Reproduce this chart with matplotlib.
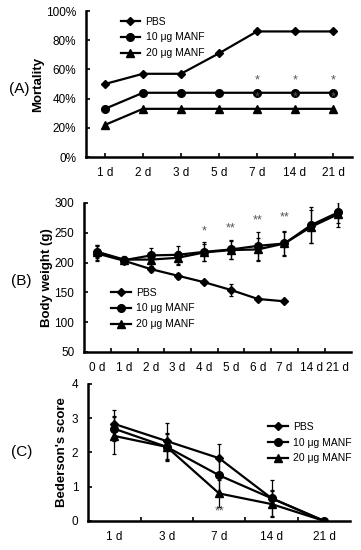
import numpy as np
import matplotlib.pyplot as plt
from matplotlib.lines import Line2D

plt.rcParams['font.family'] = ['Liberation Sans', 'DejaVu Sans']

# (A) mortality
days_a = ["1 d", "2 d", "3 d", "5 d", "7 d", "14 d", "21 d"]
mort_pbs = [50, 57, 57, 71, 86, 86, 86]
mort_10 = [33, 44, 44, 44, 44, 44, 44]
mort_20 = [22, 33, 33, 33, 33, 33, 33]
star_a_idx = [4, 5, 6]

# (B) body weight
days_b = ["0 d", "1 d", "2 d", "3 d", "4 d", "5 d", "6 d", "7 d", "14 d", "21 d"]
bw_pbs = [215, 203, 189, 178, 167, 154, 139, 135]
bw_pbs_err = [12, 6, 5, 5, 3, 10, 3, 3]
bw_10 = [217, 204, 212, 213, 218, 222, 228, 232, 263, 284]
bw_10_err = [12, 6, 12, 15, 16, 16, 23, 21, 30, 17]
bw_20 = [218, 205, 205, 208, 217, 221, 222, 232, 260, 281]
bw_20_err = [11, 6, 10, 12, 14, 15, 20, 20, 28, 22]
star_b_idx = [4, 5, 6, 7]
star_b_txt = ["*", "**", "**", "**"]
star_b_y = [252, 257, 271, 276]

# (C) Bederson's score
days_c = ["1 d", "3 d", "7 d", "14 d", "21 d"]
bs_pbs = [2.83, 2.33, 1.83, 0.66, 0.0]
bs_pbs_err = [0.42, 0.52, 0.42, 0.52, 0.0]
bs_10 = [2.69, 2.16, 1.33, 0.66, 0.0]
bs_10_err = [0.37, 0.40, 0.50, 0.25, 0.0]
bs_20 = [2.48, 2.16, 0.80, 0.49, 0.0]
bs_20_err = [0.54, 0.37, 0.40, 0.39, 0.0]

labels = ["PBS", "10 \u03bcg MANF", "20 \u03bcg MANF"]
markers = ["D", "o", "^"]
msizes = [4.5, 5.5, 5.5]
TICK = 8.5
STAR = 9
STARC = "#555555"

fig = plt.figure(figsize=(3.61, 5.5), dpi=100)


def style(ax):
    for s in ["top", "right"]:
        ax.spines[s].set_visible(False)
    for s in ["left", "bottom"]:
        ax.spines[s].set_linewidth(1.8)
    ax.tick_params(direction="in", length=3, width=1.2, labelsize=TICK, pad=7)


def legend(ax, **kw):
    hs = [Line2D([], [], color="black", lw=1.6, marker=m, ms=ms) for m, ms in zip(markers, msizes)]
    ax.legend(hs, labels, frameon=False, fontsize=7.5, handlelength=1.9,
              labelspacing=0.55, handletextpad=0.5, **kw)


# ---- A
ax = fig.add_axes([0.238, 0.7145, 0.737, 0.2655])
x = np.arange(len(days_a))
for y, m, ms in zip([mort_pbs, mort_10, mort_20], markers, msizes):
    ax.plot(x, y, color="black", lw=1.6, marker=m, ms=ms)
for i in star_a_idx:
    ax.text(x[i], mort_10[i] + 4, "*", ha="center", va="bottom", fontsize=STAR, color=STARC)
    ax.text(x[i], mort_20[i] + 4, "*", ha="center", va="bottom", fontsize=STAR, color=STARC)
ax.set_xlim(-0.5, len(days_a) - 0.5)
ax.set_ylim(0, 100)
ax.set_xticks(x)
ax.set_xticklabels(days_a)
ax.set_yticks(np.arange(0, 101, 20))
ax.set_yticklabels([f"{v}%" for v in range(0, 101, 20)])
ax.set_ylabel("Mortality", fontweight="bold", fontsize=9.5, labelpad=1)
style(ax)
legend(ax, loc="upper left", bbox_to_anchor=(0.095, 1.025))
fig.text(0.025, 0.838, "(A)", fontsize=11, va="center")

# ---- B
ax = fig.add_axes([0.233, 0.36, 0.74, 0.271])
x = np.arange(len(days_b))
series_b = [(bw_pbs, bw_pbs_err), (bw_10, bw_10_err), (bw_20, bw_20_err)]
for (y, e), m, ms in zip(series_b, markers, msizes):
    xx = x[:len(y)]
    ax.errorbar(xx, y, yerr=e, color="black", lw=1.6, marker=m, ms=ms,
                elinewidth=0.9, capsize=1.5, capthick=0.9)
for i, t, yy in zip(star_b_idx, star_b_txt, star_b_y):
    ax.text(x[i], yy, t, ha="center", va="center", fontsize=STAR, color=STARC)
ax.set_xlim(-0.5, len(days_b) - 0.5)
ax.set_ylim(50, 300)
ax.set_xticks(x)
ax.set_xticklabels(days_b)
ax.set_xticks(x[:-1] + 0.5, minor=True)
ax.set_yticks(np.arange(50, 301, 50))
ax.set_ylabel("Body weight (g)", fontweight="bold", fontsize=9.5, labelpad=1)
style(ax)
ax.tick_params(axis="x", which="major", length=0)
ax.tick_params(axis="x", which="minor", direction="in", length=3, width=1.2)
legend(ax, loc="lower left", bbox_to_anchor=(0.065, 0.09))
fig.text(0.03, 0.49, "(B)", fontsize=11, va="center")

# ---- C
ax = fig.add_axes([0.244, 0.053, 0.726, 0.249])
x = np.arange(len(days_c))
series_c = [(bs_pbs, bs_pbs_err), (bs_10, bs_10_err), (bs_20, bs_20_err)]
for (y, e), m, ms in zip(series_c, markers, msizes):
    ax.errorbar(x, y, yerr=e, color="black", lw=1.6, marker=m, ms=ms,
                elinewidth=0.9, capsize=1.5, capthick=0.9)
ax.text(x[2], 0.27, "**", ha="center", va="center", fontsize=STAR, color=STARC)
ax.set_xlim(-0.5, len(days_c) - 0.5)
ax.set_ylim(0, 4)
ax.set_xticks(x)
ax.set_xticklabels(days_c)
ax.set_xticks(x[:-1] + 0.5, minor=True)
ax.set_yticks(np.arange(0, 5, 1))
ax.set_ylabel("Bederson's score", fontweight="bold", fontsize=9.5, labelpad=3)
style(ax)
ax.tick_params(axis="x", which="major", length=0)
ax.tick_params(axis="x", which="minor", direction="in", length=3, width=1.2)
legend(ax, loc="upper left", bbox_to_anchor=(0.65, 0.79))
fig.text(0.03, 0.178, "(C)", fontsize=11, va="center")

fig.savefig("out.png", dpi=100)
